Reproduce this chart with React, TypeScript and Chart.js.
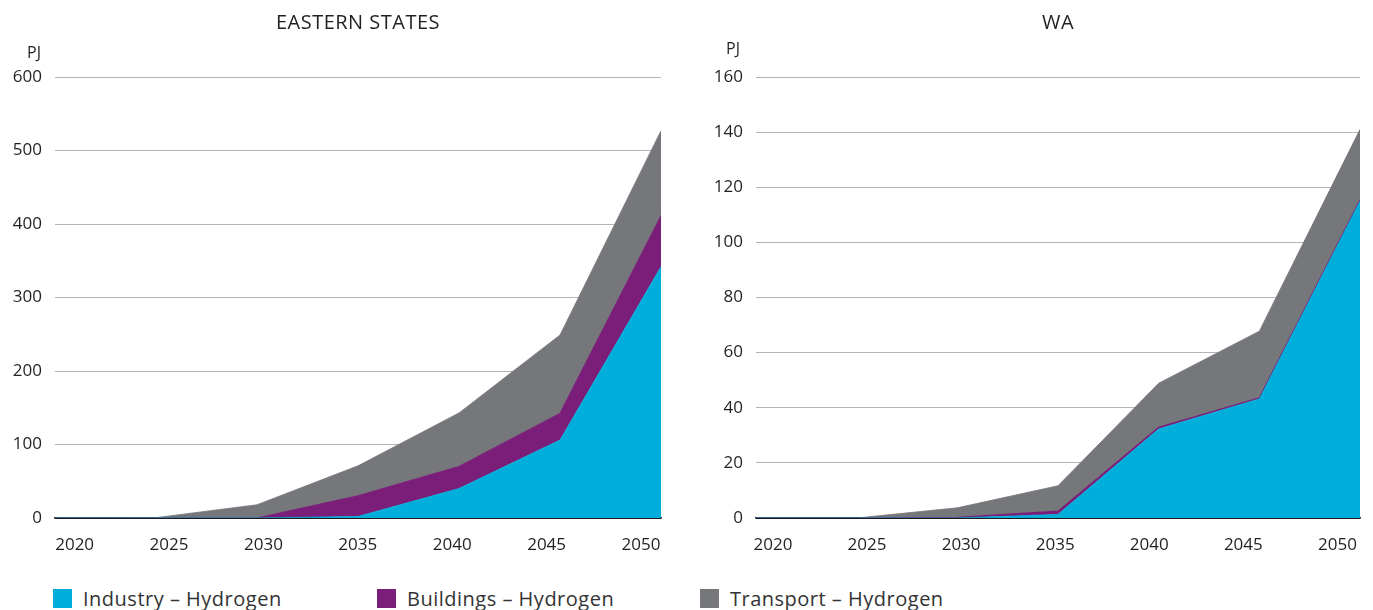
import React, { useEffect, useRef } from "react";
import { Chart, registerables } from "chart.js";
Chart.register(...registerables);

const years = [2020, 2025, 2030, 2035, 2040, 2045, 2050];
const tickYears = [2020, 2025, 2030, 2035, 2040, 2045, 2050];
const seriesNames = ["Industry – Hydrogen", "Buildings – Hydrogen", "Transport – Hydrogen"];
const seriesColors = ["#00AEDB", "#7B1E7A", "#76777B"];

const eastIndustry = [0, 0, 0, 2, 40, 106, 342];
const eastBuildings = [0, 0, 0, 28, 30, 36, 69];
const eastTransport = [0, 0.5, 18, 41, 73, 107, 116];

const waIndustry = [0, 0, 0, 1.3, 32.3, 43.2, 115];
const waBuildings = [0, 0, 0.2, 1.2, 0.6, 0.4, 0.4];
const waTransport = [0, 0, 3.5, 9.2, 16, 24.2, 25.6];

const FONT = "'Open Sans', 'Noto Sans', sans-serif";
const TEXT = "#231f20";

type PanelProps = {
  left: number;
  width: number;
  title: string;
  series: number[][];
  yMax: number;
  yStep: number;
  yAxisWidth: number;
  padRight: number;
  labelMin: number;
  labelMax: number;
  pjLeft: number;
  pjTop: number;
};

function Panel(p: PanelProps) {
  const ref = useRef<HTMLCanvasElement | null>(null);
  const H = 565;
  useEffect(() => {
    if (!ref.current) return;
    const chart = new Chart(ref.current, {
      type: "line",
      data: {
        datasets: p.series.map((vals, i) => ({
          label: seriesNames[i],
          data: years.map((y, k) => ({ x: y, y: vals[k] })),
          backgroundColor: seriesColors[i],
          borderColor: seriesColors[i],
          borderWidth: i === 1 ? 1.2 : 0.8,
          pointRadius: 0,
          tension: 0,
          fill: i === 0 ? "origin" : "-1",
          xAxisID: "x",
          yAxisID: "y",
        })),
      },
      options: {
        responsive: false,
        animation: false,
        layout: { padding: { top: 77, right: p.padRight, left: 0, bottom: 0 } },
        plugins: { legend: { display: false }, tooltip: { enabled: false }, title: { display: false } },
        scales: {
          x: { type: "linear", min: 2020, max: 2050, display: false },
          xl: {
            type: "linear",
            position: "bottom",
            min: p.labelMin,
            max: p.labelMax,
            z: 1,
            grid: { display: false, drawTicks: false },
            border: { display: true, color: "#1a1a1a", width: 1.5 },
            afterBuildTicks: (s: any) => {
              s.ticks = tickYears.map((v) => ({ value: v }));
            },
            afterFit: (s: any) => {
              s.height = H - 518;
              s.paddingLeft = 0;
              s.paddingRight = 0;
            },
            ticks: {
              autoSkip: false,
              maxRotation: 0,
              padding: 17,
              color: TEXT,
              font: { family: FONT, size: 17 },
              callback: (v: any) => String(v),
            },
          },
          y: {
            type: "linear",
            stacked: true,
            min: 0,
            max: p.yMax,
            afterFit: (s: any) => {
              s.width = p.yAxisWidth;
            },
            grid: {
              drawTicks: false,
              color: (c: any) => (c.tick && c.tick.value === 0 ? "#1a1a1a" : "#b4b4b4"),
              lineWidth: 1,
            },
            border: { display: false },
            ticks: {
              stepSize: p.yStep,
              padding: 13,
              color: TEXT,
              font: { family: FONT, size: 17 },
            },
          },
        },
      },
    } as any);
    return () => chart.destroy();
  }, []);
  return (
    <div style={{ position: "absolute", left: p.left, top: 0, width: p.width, height: H }}>
      <canvas ref={ref} width={p.width} height={H} style={{ position: "absolute", left: 0, top: 0 }} />
      <div
        style={{
          position: "absolute",
          left: p.yAxisWidth,
          width: p.width - p.yAxisWidth - p.padRight,
          top: 8,
          textAlign: "center",
          fontFamily: FONT,
          fontSize: 20,
          color: TEXT,
          letterSpacing: 0.5,
        }}
      >
        {p.title}
      </div>
      <div
        style={{
          position: "absolute",
          left: p.pjLeft,
          top: p.pjTop,
          fontFamily: FONT,
          fontSize: 16,
          color: TEXT,
        }}
      >
        PJ
      </div>
    </div>
  );
}

const legendX = [53, 377, 700];

export default function App() {
  return (
    <div style={{ position: "fixed", left: 0, top: 0, width: 1373, height: 610, background: "#fff", overflow: "hidden" }}>
      <Panel
        left={0}
        width={690}
        title="EASTERN STATES"
        series={[eastIndustry, eastBuildings, eastTransport]}
        yMax={600}
        yStep={100}
        yAxisWidth={55}
        padRight={29}
        labelMin={2018.96}
        labelMax={2051.06}
        pjLeft={27}
        pjTop={41}
      />
      <Panel
        left={700}
        width={673}
        title="WA"
        series={[waIndustry, waBuildings, waTransport]}
        yMax={160}
        yStep={20}
        yAxisWidth={56}
        padRight={13}
        labelMin={2019.1}
        labelMax={2051.2}
        pjLeft={26}
        pjTop={37}
      />
      {seriesNames.map((n, i) => (
        <div
          key={n}
          style={{
            position: "absolute",
            left: legendX[i],
            top: 585,
            display: "flex",
            alignItems: "center",
            fontFamily: FONT,
            fontSize: 20,
            letterSpacing: 0.5,
            color: "#333",
            whiteSpace: "nowrap",
          }}
        >
          <span style={{ display: "inline-block", width: 19, height: 19, background: seriesColors[i], marginRight: 11 }} />
          <span>{n}</span>
        </div>
      ))}
    </div>
  );
}
